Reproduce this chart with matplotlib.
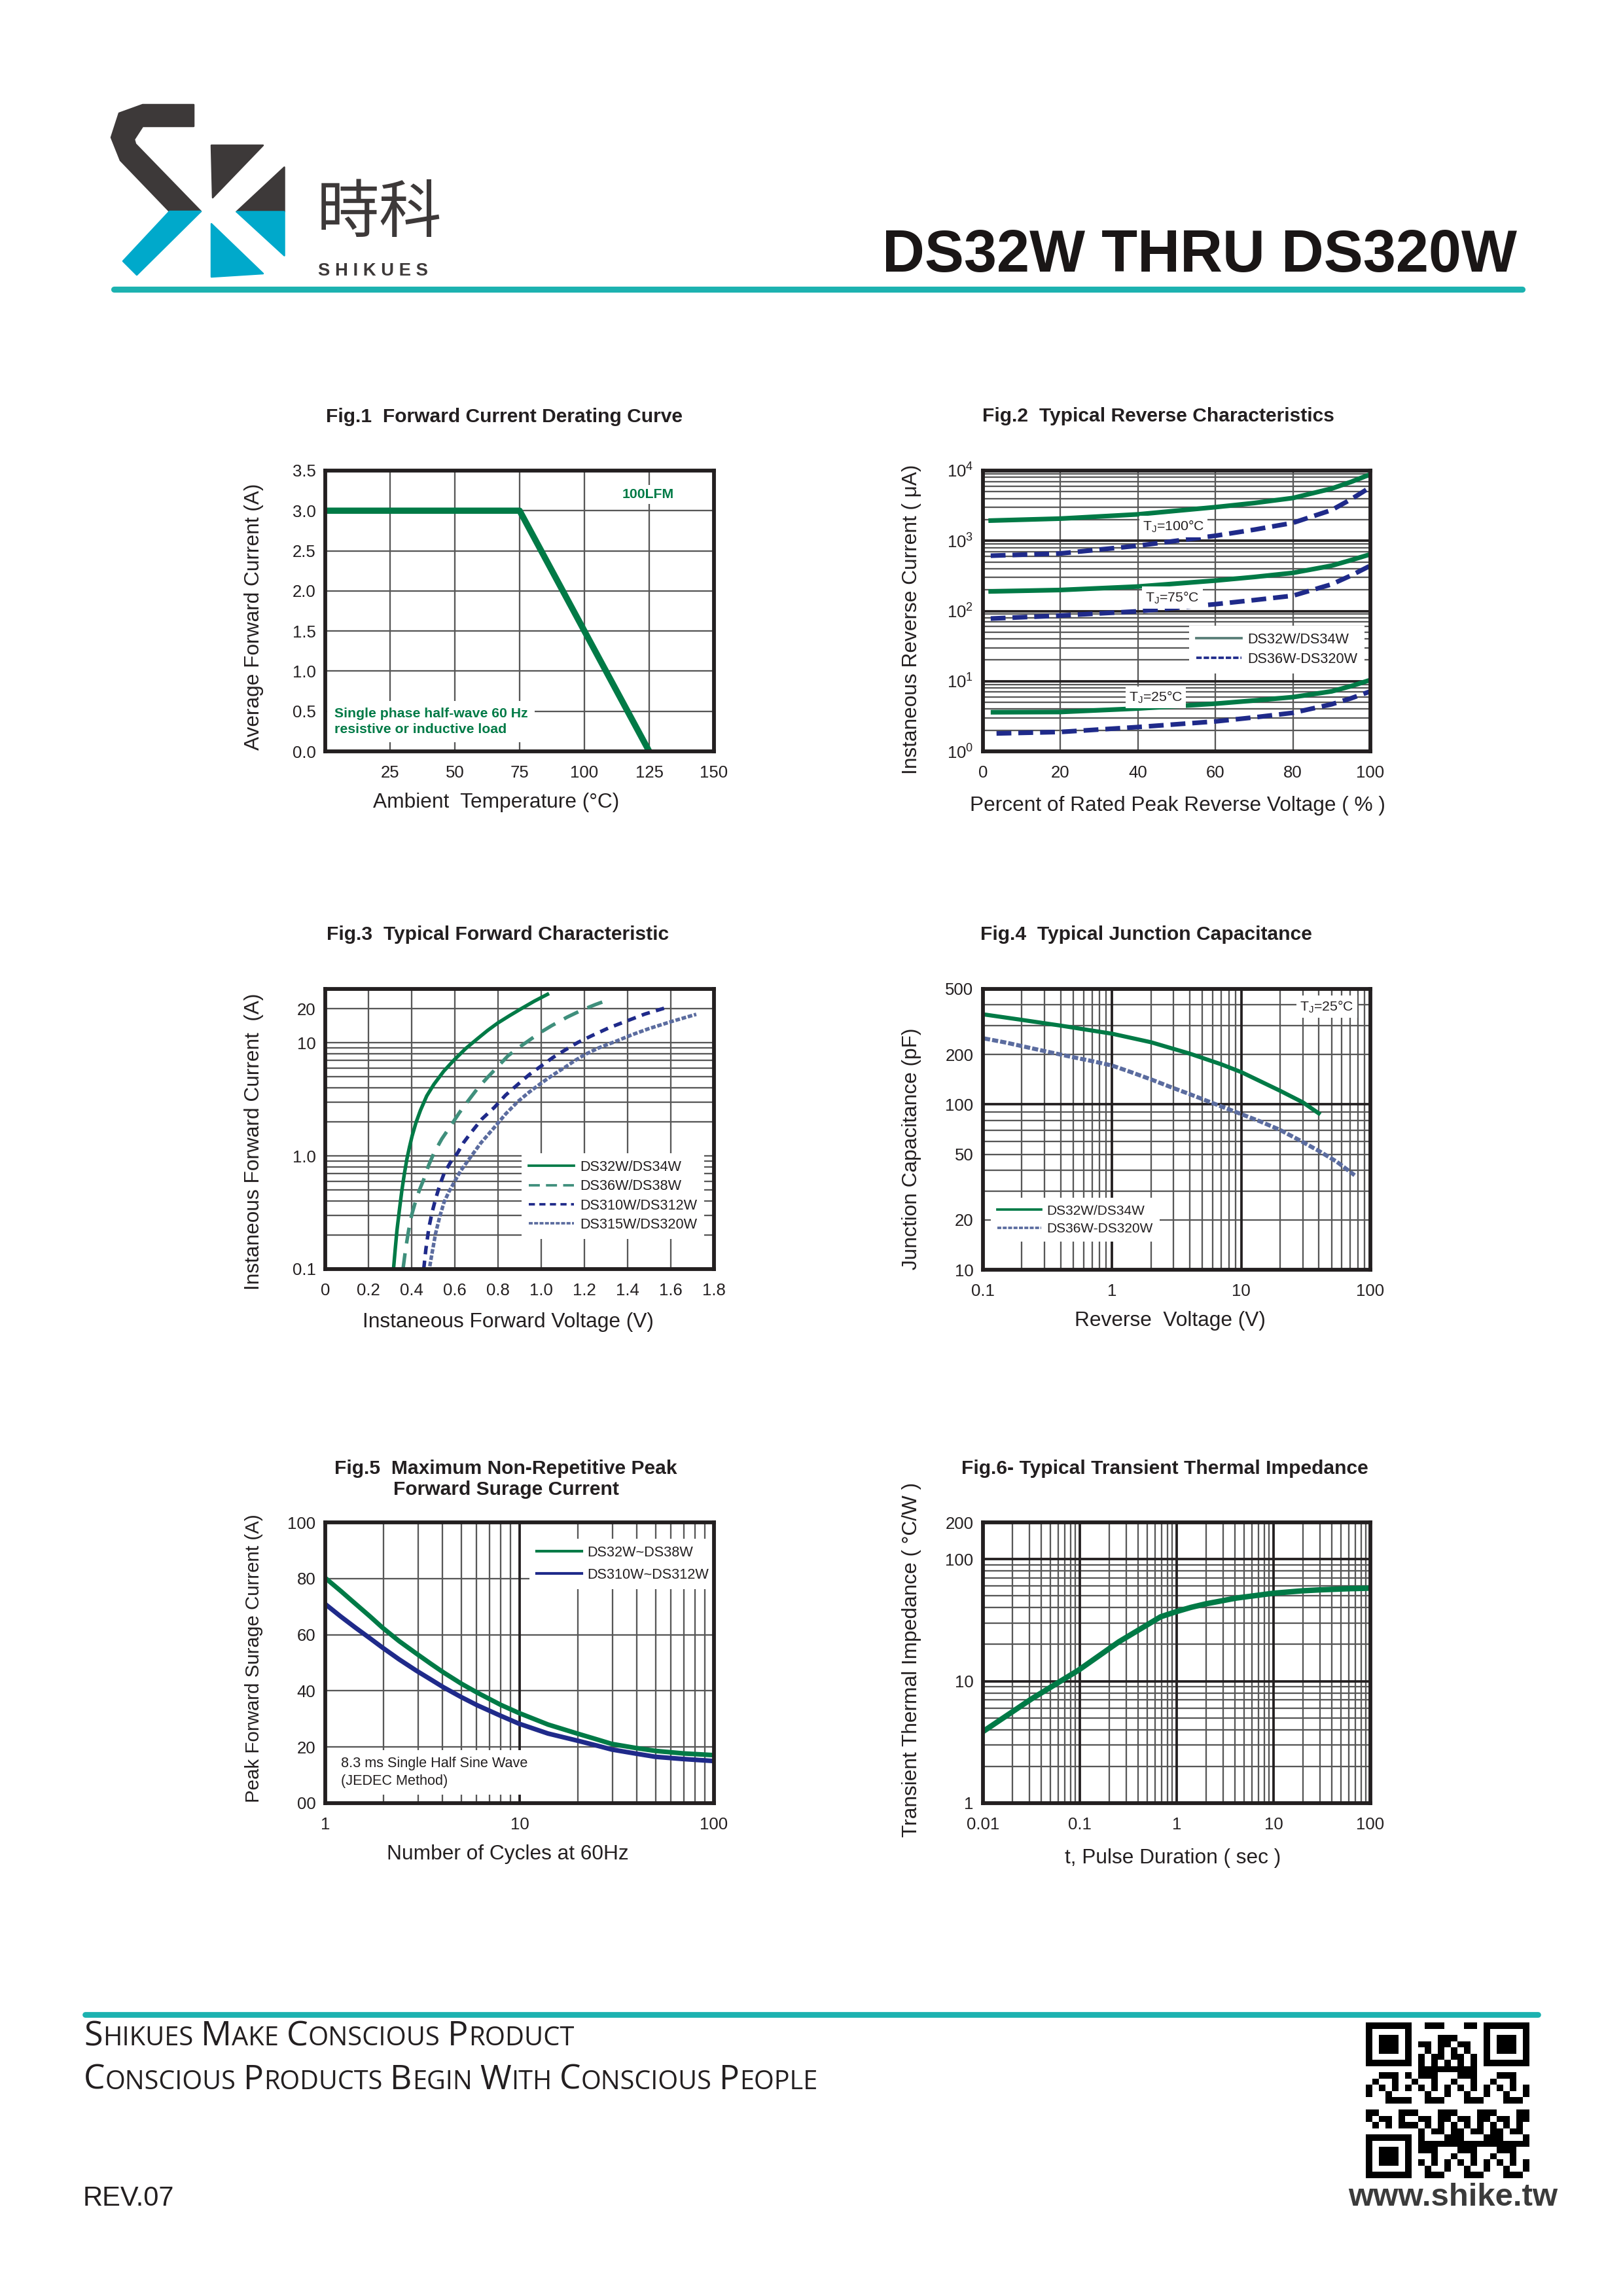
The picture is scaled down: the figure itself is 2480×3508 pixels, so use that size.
import numpy as np
import matplotlib
matplotlib.use("Agg")
import matplotlib.pyplot as plt
from matplotlib.patches import Polygon
from matplotlib.lines import Line2D

plt.rcParams['font.family'] = ['Liberation Sans', 'DejaVu Sans']
plt.rcParams['mathtext.fontset'] = 'custom'
plt.rcParams['mathtext.rm'] = 'Liberation Sans'
plt.rcParams['mathtext.it'] = 'Liberation Sans:italic'
plt.rcParams['mathtext.bf'] = 'Liberation Sans:bold'
plt.rcParams['axes.unicode_minus'] = False

# ------------------------------------------------------------------ data
# Fig.1 Forward current derating
f1_temp = [0, 75, 125]
f1_current = [3.0, 3.0, 0.0]
f1_xticks = [25, 50, 75, 100, 125, 150]
f1_yticks = [0.0, 0.5, 1.0, 1.5, 2.0, 2.5, 3.0, 3.5]

# Fig.2 Typical reverse characteristics (% of VRRM -> uA)
f2_pct = [2, 20, 40, 60, 70, 80, 90, 95, 100]
f2_100_a = [1940, 2070, 2380, 3015, 3450, 4070, 5540, 6900, 8850]
f2_100_b = [613, 660, 850, 1180, 1440, 1800, 2740, 3900, 5800]
f2_75_a = [190, 199, 223, 271, 305, 349, 442, 530, 642]
f2_75_b = [78, 86, 99, 125, 143, 165, 240, 320, 442]
f2_pct_25a = [2.6, 20, 40, 60, 70, 80, 90, 95, 100]
f2_25_a = [3.61, 3.64, 4.08, 4.78, 5.3, 5.93, 7.16, 8.5, 10.4]
f2_pct_25b = [3.5, 20, 40, 60, 70, 80, 90, 95, 100]
f2_25_b = [1.80, 1.89, 2.22, 2.67, 3.05, 3.54, 4.69, 5.7, 7.16]
f2_xticks = [0, 20, 40, 60, 80, 100]
f2_yticks = [1, 10, 100, 1000, 10000]
f2_ylabels = ['$10^{0}$', '$10^{1}$', '$10^{2}$', '$10^{3}$', '$10^{4}$']

# Fig.3 Typical forward characteristic (V -> A)
f3_v_a = [0.316, 0.324, 0.332, 0.343, 0.355, 0.366, 0.378, 0.390, 0.402, 0.420, 0.441,
          0.470, 0.503, 0.548, 0.596, 0.650, 0.705, 0.752, 0.799, 0.853, 0.908, 0.968, 1.029]
f3_i_a = [0.1, 0.15, 0.22, 0.33, 0.50, 0.69, 0.94, 1.2, 1.50, 1.97, 2.54,
          3.4, 4.3, 5.6, 7.05, 8.9, 10.9, 12.9, 15.0, 17.4, 20.1, 23.4, 26.9]
f3_v_b = [0.360, 0.372, 0.386, 0.400, 0.417, 0.436, 0.456, 0.478, 0.503, 0.540, 0.581,
          0.620, 0.659, 0.705, 0.752, 0.800, 0.846, 0.900, 0.955, 1.000, 1.048, 1.120,
          1.188, 1.250, 1.310]
f3_i_b = [0.1, 0.15, 0.22, 0.30, 0.39, 0.50, 0.62, 0.82, 1.06, 1.42, 1.85,
          2.40, 3.03, 3.95, 4.97, 6.2, 7.69, 9.2, 10.9, 12.5, 14.2, 16.9,
          19.5, 21.8, 24.0]
f3_v_c = [0.456, 0.466, 0.480, 0.495, 0.511, 0.530, 0.550, 0.580, 0.612, 0.640, 0.674,
          0.725, 0.783, 0.835, 0.892, 0.945, 1.001, 1.055, 1.110, 1.170, 1.235, 1.310,
          1.391, 1.480, 1.578]
f3_i_c = [0.1, 0.15, 0.233, 0.32, 0.417, 0.55, 0.70, 0.88, 1.06, 1.31, 1.60,
          2.12, 2.69, 3.45, 4.30, 5.25, 6.27, 7.45, 8.64, 10.1, 11.6, 13.5,
          15.5, 18.0, 20.5]
f3_v_d = [0.484, 0.495, 0.511, 0.530, 0.550, 0.572, 0.596, 0.625, 0.659, 0.720, 0.783,
          0.835, 0.892, 0.945, 1.001, 1.055, 1.110, 1.157, 1.204, 1.270, 1.344, 1.420,
          1.500, 1.610, 1.718]
f3_i_d = [0.106, 0.14, 0.207, 0.29, 0.39, 0.48, 0.58, 0.73, 0.90, 1.30, 1.79,
          2.35, 3.03, 3.68, 4.42, 5.22, 6.09, 7.0, 7.92, 9.1, 10.3, 11.8,
          13.4, 15.6, 17.9]
f3_xticks = [0, 0.2, 0.4, 0.6, 0.8, 1.0, 1.2, 1.4, 1.6, 1.8]
f3_xlabels = ['0', '0.2', '0.4', '0.6', '0.8', '1.0', '1.2', '1.4', '1.6', '1.8']
f3_yticks = [0.1, 1.0, 10, 20]
f3_ylabels = ['0.1', '1.0', '10', '20']

# Fig.4 Typical junction capacitance (V -> pF)
f4_v_a = [0.106, 0.2, 0.4, 0.7, 1.0, 2.0, 4.0, 7.0, 10, 20, 30, 39.8]
f4_c_a = [349, 325, 300, 280, 268, 238, 203, 175, 157, 121, 103, 88.4]
f4_v_b = [0.102, 0.15, 0.237, 0.33, 0.486, 0.7, 1.0, 1.4, 2.04, 2.8, 3.93, 6.0, 9.9,
          14, 19.7, 28, 39.8, 55, 75.5]
f4_c_b = [251, 237, 219, 207, 194, 183, 172, 157, 141, 128, 116, 102, 87.7,
          79, 70.5, 61, 52.4, 45, 37.3]
f4_xticks = [0.1, 1, 10, 100]
f4_xlabels = ['0.1', '1', '10', '100']
f4_yticks = [10, 20, 50, 100, 200, 500]
f4_ylabels = ['10', '20', '50', '100', '200', '500']

# Fig.5 Max non-repetitive peak forward surge current (cycles -> A)
f5_n = [1, 1.2, 1.43, 1.7, 1.97, 2.4, 2.94, 3.5, 4.05, 5, 6.04, 8, 9.93, 14, 20, 25,
        29.8, 40, 50.1, 70, 100]
f5_i_a = [80.2, 75.6, 71.0, 66.5, 62.5, 57.7, 53.3, 49.6, 46.6, 42.6, 39.4, 35.0, 32.1,
          28.0, 24.7, 22.7, 21.1, 19.6, 18.6, 17.7, 17.1]
f5_i_b = [70.9, 66.5, 62.5, 58.7, 55.4, 51.2, 47.2, 44.0, 41.3, 37.8, 34.9, 31.1, 28.3,
          24.8, 22.2, 20.5, 19.1, 17.6, 16.5, 15.7, 15.0]
f5_xticks = [1, 10, 100]
f5_xlabels = ['1', '10', '100']
f5_yticks = [0, 20, 40, 60, 80, 100]
f5_ylabels = ['00', '20', '40', '60', '80', '100']

# Fig.6 Typical transient thermal impedance (s -> C/W)
f6_t = [0.01, 0.0318, 0.097, 0.253, 0.684, 0.98, 1.4, 2.0, 4.1, 9.9, 20, 30.3, 60, 100]
f6_z = [3.86, 7.16, 12.3, 21.0, 33.7, 37.0, 40.2, 43.0, 47.9, 52.5, 55.0, 56.0, 57.2, 57.8]
f6_xticks = [0.01, 0.1, 1, 10, 100]
f6_xlabels = ['0.01', '0.1', '1', '10', '100']
f6_yticks = [1, 10, 100, 200]
f6_ylabels = ['1', '10', '100', '200']

# ------------------------------------------------------------------ style
INK = '#231f20'
GRID = '#575757'
GREEN = '#007a46'
TEAL = '#3f8f7c'
NAVY = '#1f2a8a'
SLATE = '#5b6c9f'
LEGTEAL = '#587d76'
BAR = '#1cb2b0'
LOGO_DARK = '#3d3939'
LOGO_BLUE = '#00a9cb'

W_PX, H_PX, DPI = 2480, 3508, 300
fig = plt.figure(figsize=(W_PX / DPI, H_PX / DPI), dpi=DPI)

# page-level axes in pixel coordinates (header / footer decoration)
pg = fig.add_axes([0, 0, 1, 1])
pg.set_xlim(0, W_PX)
pg.set_ylim(H_PX, 0)
pg.axis('off')


def make_ax(x0, y_top, w, h):
    return fig.add_axes([x0 / W_PX, 1 - (y_top + h) / H_PX, w / W_PX, h / H_PX])


def minor_log(lo_exp, hi_exp):
    vals = []
    for e in range(lo_exp, hi_exp):
        for m in range(2, 10):
            vals.append(m * 10.0 ** e)
    return vals


def decorate(ax, title, xlabel, ylabel, t_xy, xl_xy, yl_xy, xls=7.6, yls=7.6):
    for s in ax.spines.values():
        s.set_linewidth(1.4)
        s.set_color(INK)
        s.set_zorder(6)
    ax.tick_params(which='both', length=0, labelsize=6.2, colors=INK)
    ax.tick_params(axis='x', pad=5)
    ax.tick_params(axis='y', pad=3.5)
    ax.set_axisbelow(True)
    ax.text(t_xy[0], t_xy[1], title, transform=ax.transAxes, ha='center',
            va='center', fontsize=7.2, fontweight='bold', color=INK,
            linespacing=1.2)
    ax.set_xlabel(xlabel, fontsize=xls, color=INK)
    ax.xaxis.set_label_coords(*xl_xy)
    ax.xaxis.label.set_va('center')
    ax.set_ylabel(ylabel, fontsize=yls, color=INK)
    ax.yaxis.set_label_coords(*yl_xy)
    ax.yaxis.label.set_va('center')


def gray_grid(ax):
    ax.grid(which='both', color=GRID, linewidth=0.55)


def legend(ax, handles, labels, loc, anchor, spacing=0.4, size=5.0):
    lg = ax.legend(handles, labels, loc=loc, bbox_to_anchor=anchor,
                   fontsize=size, handlelength=3.2, handletextpad=0.4,
                   labelspacing=spacing, borderpad=0.5, borderaxespad=0,
                   frameon=True, fancybox=False, framealpha=1,
                   facecolor='white', edgecolor='none')
    for t in lg.get_texts():
        t.set_color(INK)
    lg.set_zorder(4)
    return lg


WBOX = dict(facecolor='white', edgecolor='none', pad=1.2)

# ------------------------------------------------------------------ Fig.1
ax1 = make_ax(497, 719, 594, 429)
ax1.plot(f1_temp, f1_current, color=GREEN, lw=2.3, solid_capstyle='butt', zorder=3)
ax1.set_xlim(0, 150)
ax1.set_ylim(0, 3.5)
ax1.set_xticks(f1_xticks)
ax1.set_xticklabels([str(v) for v in f1_xticks])
ax1.set_yticks(f1_yticks)
ax1.set_yticklabels(['%.1f' % v for v in f1_yticks])
gray_grid(ax1)
decorate(ax1, 'Fig.1  Forward Current Derating Curve', 'Ambient  Temperature (°C)',
         'Average Forward Current (A)', (0.46, 1.19), (0.44, -0.182), (-0.183, 0.48))
ax1.text(124.5, 3.2, '100LFM', ha='center', va='center', fontsize=5.1, fontweight='bold',
         color=GREEN, bbox=WBOX, zorder=4)
ax1.text(3.5, 0.37, 'Single phase half-wave 60 Hz\nresistive or inductive load', ha='left',
         va='center', fontsize=5.1, fontweight='bold', color=GREEN, linespacing=1.3,
         bbox=dict(facecolor='white', edgecolor='none', pad=2.5), zorder=4)

# ------------------------------------------------------------------ Fig.2
ax2 = make_ax(1502, 719, 592, 429)
dash2 = (0, (3.2, 1.5))
ax2.plot(f2_pct, f2_100_a, color=GREEN, lw=1.7, zorder=3)
ax2.plot(f2_pct, f2_100_b, color=NAVY, lw=1.7, ls=dash2, zorder=3)
ax2.plot(f2_pct, f2_75_a, color=GREEN, lw=1.7, zorder=3)
ax2.plot(f2_pct, f2_75_b, color=NAVY, lw=1.7, ls=dash2, zorder=3)
ax2.plot(f2_pct_25a, f2_25_a, color=GREEN, lw=1.7, zorder=3)
ax2.plot(f2_pct_25b, f2_25_b, color=NAVY, lw=1.7, ls=dash2, zorder=3)
ax2.set_yscale('log')
ax2.set_xlim(0, 100)
ax2.set_ylim(1, 10000)
ax2.set_xticks(f2_xticks)
ax2.set_xticklabels([str(v) for v in f2_xticks])
ax2.set_yticks(f2_yticks)
ax2.set_yticklabels(f2_ylabels)
ax2.set_yticks(minor_log(0, 4), minor=True)
ax2.yaxis.set_minor_formatter(plt.NullFormatter())
gray_grid(ax2)
for v in f2_yticks[1:-1]:
    ax2.axhline(v, color=INK, lw=0.9, zorder=1.5)
decorate(ax2, 'Fig.2  Typical Reverse Characteristics',
         'Percent of Rated Peak Reverse Voltage ( % )',
         'Instaneous Reverse Current ( μA)', (0.453, 1.194), (0.503, -0.193), (-0.184, 0.47))
for xx, yy, s in [(49.1, 1600, r'T$_\mathregular{J}$=100°C'),
                  (48.9, 155, r'T$_\mathregular{J}$=75°C'),
                  (44.6, 5.9, r'T$_\mathregular{J}$=25°C')]:
    ax2.text(xx, yy, s, ha='center', va='center', fontsize=5.1, color=INK, bbox=WBOX, zorder=4)
legend(ax2, [Line2D([], [], color=LEGTEAL, lw=0.9),
             Line2D([], [], color=NAVY, lw=0.9, ls=(0, (2.2, 0.8)))],
       ['DS32W/DS34W', 'DS36W-DS320W'], 'upper left', (0.532, 0.448), spacing=0.42, size=5.2)

# ------------------------------------------------------------------ Fig.3
ax3 = make_ax(497, 1511, 594, 428)
ax3.plot(f3_v_a, f3_i_a, color=GREEN, lw=1.3, zorder=3)
ax3.plot(f3_v_b, f3_i_b, color=TEAL, lw=1.3, ls=(0, (4.5, 2.8)), zorder=3)
ax3.plot(f3_v_c, f3_i_c, color=NAVY, lw=1.3, ls=(0, (2.4, 1.8)), zorder=3)
ax3.plot(f3_v_d, f3_i_d, color=SLATE, lw=1.3, ls=(0, (1.3, 0.5)), zorder=3)
ax3.set_yscale('log')
ax3.set_xlim(0, 1.8)
ax3.set_ylim(0.1, 30)
ax3.set_xticks(f3_xticks)
ax3.set_xticklabels(f3_xlabels)
ax3.set_yticks(f3_yticks)
ax3.set_yticklabels(f3_ylabels)
ax3.set_yticks([v for v in minor_log(-1, 2) if v < 30 and v not in (20.0,)], minor=True)
ax3.yaxis.set_minor_formatter(plt.NullFormatter())
gray_grid(ax3)
decorate(ax3, 'Fig.3  Typical Forward Characteristic', 'Instaneous Forward Voltage (V)',
         'Instaneous Forward Current  (A)', (0.443, 1.194), (0.47, -0.19), (-0.183, 0.455))
legend(ax3, [Line2D([], [], color=GREEN, lw=0.9),
             Line2D([], [], color=TEAL, lw=0.9, ls=(0, (4.5, 2.5))),
             Line2D([], [], color=NAVY, lw=0.9, ls=(0, (2.5, 1.8))),
             Line2D([], [], color=SLATE, lw=0.9, ls=(0, (1.6, 0.6)))],
       ['DS32W/DS34W', 'DS36W/DS38W', 'DS310W/DS312W', 'DS315W/DS320W'],
       'upper left', (0.505, 0.413), spacing=0.38, size=5.2)

# ------------------------------------------------------------------ Fig.4
ax4 = make_ax(1502, 1511, 592, 429)
ax4.plot(f4_v_a, f4_c_a, color=GREEN, lw=1.5, zorder=3)
ax4.plot(f4_v_b, f4_c_b, color=SLATE, lw=1.5, ls=(0, (1.5, 0.5)), zorder=3)
ax4.set_xscale('log')
ax4.set_yscale('log')
ax4.set_xlim(0.1, 100)
ax4.set_ylim(10, 500)
ax4.set_xticks(f4_xticks)
ax4.set_xticklabels(f4_xlabels)
ax4.set_xticks(minor_log(-1, 2), minor=True)
ax4.set_yticks(f4_yticks)
ax4.set_yticklabels(f4_ylabels)
ax4.set_yticks([v for v in minor_log(1, 3) if v <= 500 and v not in (20.0, 50.0, 200.0)], minor=True)
ax4.xaxis.set_minor_formatter(plt.NullFormatter())
ax4.yaxis.set_minor_formatter(plt.NullFormatter())
gray_grid(ax4)
for v in [1, 10]:
    ax4.axvline(v, color=INK, lw=0.9, zorder=1.5)
ax4.axhline(100, color=INK, lw=0.9, zorder=1.5)
decorate(ax4, 'Fig.4  Typical Junction Capacitance', 'Reverse  Voltage (V)',
         'Junction Capacitance (pF)', (0.422, 1.194), (0.483, -0.182), (-0.184, 0.43))
ax4.text(46, 390, r'T$_\mathregular{J}$=25°C', ha='center', va='center', fontsize=5.1,
         color=INK, bbox=WBOX, zorder=4)
legend(ax4, [Line2D([], [], color=GREEN, lw=0.9),
             Line2D([], [], color=SLATE, lw=0.9, ls=(0, (1.6, 0.6)))],
       ['DS32W/DS34W', 'DS36W-DS320W'], 'upper left', (0.02, 0.256), spacing=0.4)

# ------------------------------------------------------------------ Fig.5
ax5 = make_ax(497, 2326, 594, 429)
ax5.plot(f5_n, f5_i_a, color=GREEN, lw=1.7, zorder=3)
ax5.plot(f5_n, f5_i_b, color=NAVY, lw=1.7, zorder=3)
ax5.set_xscale('log')
ax5.set_xlim(1, 100)
ax5.set_ylim(0, 100)
ax5.set_xticks(f5_xticks)
ax5.set_xticklabels(f5_xlabels)
ax5.set_xticks(minor_log(0, 2), minor=True)
ax5.xaxis.set_minor_formatter(plt.NullFormatter())
ax5.set_yticks(f5_yticks)
ax5.set_yticklabels(f5_ylabels)
gray_grid(ax5)
ax5.axvline(10, color=INK, lw=0.9, zorder=1.5)
decorate(ax5, 'Fig.5  Maximum Non-Repetitive Peak\nForward Surage Current',
         'Number of Cycles at 60Hz', 'Peak Forward Surage Current (A)',
         (0.465, 1.154), (0.47, -0.182), (-0.183, 0.515), yls=7.1)
ax5.text(1.2, 11.0, '8.3 ms Single Half Sine Wave\n(JEDEC Method)', ha='left', va='center',
         fontsize=5.2, color=INK, linespacing=1.35,
         bbox=dict(facecolor='white', edgecolor='none', pad=2.5), zorder=4)
legend(ax5, [Line2D([], [], color=GREEN, lw=1.0),
             Line2D([], [], color=NAVY, lw=1.0)],
       ['DS32W~DS38W', 'DS310W~DS312W'], 'upper left', (0.525, 0.942), spacing=0.6, size=5.2)

# ------------------------------------------------------------------ Fig.6
ax6 = make_ax(1502, 2326, 592, 429)
ax6.plot(f6_t, f6_z, color=GREEN, lw=2.0, zorder=3)
ax6.set_xscale('log')
ax6.set_yscale('log')
ax6.set_xlim(0.01, 100)
ax6.set_ylim(1, 200)
ax6.set_xticks(f6_xticks)
ax6.set_xticklabels(f6_xlabels)
ax6.set_xticks(minor_log(-2, 2), minor=True)
ax6.set_yticks(f6_yticks)
ax6.set_yticklabels(f6_ylabels)
ax6.set_yticks([v for v in minor_log(0, 3) if v < 200], minor=True)
ax6.xaxis.set_minor_formatter(plt.NullFormatter())
ax6.yaxis.set_minor_formatter(plt.NullFormatter())
gray_grid(ax6)
for v in [0.1, 1, 10]:
    ax6.axvline(v, color=INK, lw=0.9, zorder=1.5)
for v in [10, 100]:
    ax6.axhline(v, color=INK, lw=0.9, zorder=1.5)
decorate(ax6, 'Fig.6- Typical Transient Thermal Impedance', 't, Pulse Duration ( sec )',
         'Transient Thermal Impedance ( °C/W )', (0.47, 1.19), (0.49, -0.196), (-0.184, 0.51))

# ------------------------------------------------------------------ header
logo_dark = [
    [(296, 160), (296, 193), (218, 193), (205, 213), (207, 220), (307, 323),
     (259, 323), (184, 245), (170, 210), (182, 173), (218, 160)],
    [(323, 222), (402, 222), (325, 302)],
    [(434, 255), (434, 323), (361, 323)],
]
logo_blue = [
    [(259, 323), (307, 323), (209, 420), (188, 399)],
    [(361, 323), (434, 323), (434, 390)],
    [(323, 342), (402, 418), (323, 423)],
]
for poly in logo_dark:
    pg.add_patch(Polygon(poly, closed=True, facecolor=LOGO_DARK, edgecolor=LOGO_DARK,
                         lw=0.6, joinstyle='round'))
for poly in logo_blue:
    pg.add_patch(Polygon(poly, closed=True, facecolor=LOGO_BLUE, edgecolor=LOGO_BLUE,
                         lw=0.6, joinstyle='round'))
pg.text(484, 326, '時科', ha='left', va='center', fontsize=23, color=LOGO_DARK,
        family=['Noto Sans CJK TC', 'DejaVu Sans'])
pg.text(486, 421, 'S H I K U E S', ha='left', va='baseline', fontsize=6.6,
        fontweight='bold', color=LOGO_DARK)
pg.text(2318, 415, 'DS32W THRU DS320W', ha='right', va='baseline', fontsize=21.6,
        fontweight='bold', color='#1a1616')
pg.plot([174, 2326], [442, 442], color=BAR, lw=2.2, solid_capstyle='round')

# ------------------------------------------------------------------ footer
pg.plot([130, 2350], [3078, 3078], color=BAR, lw=2.1, solid_capstyle='round')

renderer = fig.canvas.get_renderer()


def small_caps(x, y_base, s, big, small, family, color):
    cx = x
    space = 0.30 * small * DPI / 72.0
    for wi, word in enumerate(s.split(' ')):
        if wi:
            cx += space
        parts = [(word[0].upper(), big), (word[1:].upper(), small)]
        for txt, size in parts:
            if not txt:
                continue
            t = pg.text(cx, y_base, txt, ha='left', va='baseline', fontsize=size,
                        family=family, color=color)
            bb = t.get_window_extent(renderer)
            cx += bb.width


FOOT_FONT = ['Open Sans', 'DejaVu Sans']
small_caps(128, 3125, 'Shikues Make Conscious Product', 12.5, 9.6, FOOT_FONT, INK)
small_caps(128, 3192, 'Conscious Products Begin With Conscious People', 12.4, 9.5, FOOT_FONT, INK)
pg.text(127, 3370, 'REV.07', ha='left', va='baseline', fontsize=10, color=INK)
pg.text(2380, 3370, 'www.shike.tw', ha='right', va='baseline', fontsize=11.8,
        fontweight='bold', color='#3b3b3b')

# QR-like code block
n = 25
ii, jj = np.indices((n, n))
qr = ((((ii * jj) % 2 + (ii * jj) % 3) % 2 == 0) ^ ((ii // 2 + jj // 3) % 2 == 0)).astype(float)
for r0, c0 in [(0, 0), (0, n - 7), (n - 7, 0)]:
    rs, re_ = max(r0 - 1, 0), min(r0 + 8, n)
    cs, ce = max(c0 - 1, 0), min(c0 + 8, n)
    qr[rs:re_, cs:ce] = 0
    qr[r0:r0 + 7, c0:c0 + 7] = 1
    qr[r0 + 1:r0 + 6, c0 + 1:c0 + 6] = 0
    qr[r0 + 2:r0 + 5, c0 + 2:c0 + 5] = 1
qr[6, 8:n - 8] = (np.arange(8, n - 8) % 2 == 0)
qr[8:n - 8, 6] = (np.arange(8, n - 8) % 2 == 0)
pg.imshow(qr, cmap='gray_r', vmin=0, vmax=1, extent=(2087, 2337, 3328, 3090),
          interpolation='nearest', aspect='auto', zorder=2)
pg.set_xlim(0, W_PX)
pg.set_ylim(H_PX, 0)

fig.savefig('out.png', dpi=DPI, facecolor='white')
